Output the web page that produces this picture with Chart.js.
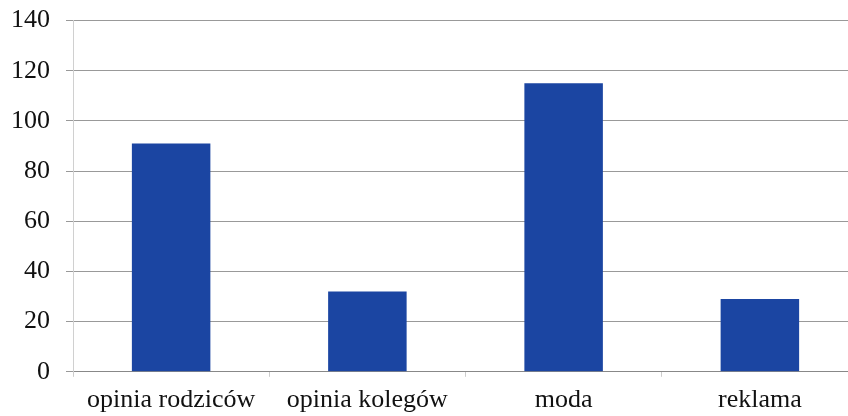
<!DOCTYPE html>
<html><head><meta charset="utf-8">
<script src="https://cdn.jsdelivr.net/npm/chart.js@4/dist/chart.umd.min.js"></script>
<style>html,body{margin:0;padding:0;overflow:hidden;background:#fff;width:848px;height:416px}#wrap{position:absolute;left:-13px;top:-11px;width:871px;height:442px}</style>
</head><body>
<div id="wrap"><canvas id="c"></canvas></div>
<script>
const categories = ['opinia rodziców', 'opinia kolegów', 'moda', 'reklama'];
const values = [91, 32, 115, 29];
const yTicks = [0, 20, 40, 60, 80, 100, 120, 140];
const FONT = '"Liberation Serif", "Times New Roman", serif';

new Chart(document.getElementById('c'), {
  type: 'bar',
  data: { labels: categories, datasets: [{ data: values, backgroundColor: '#1b45a2', borderWidth: 0, categoryPercentage: 1, barPercentage: 0.4 }] },
  options: {
    responsive: true, maintainAspectRatio: false, animation: false,
    devicePixelRatio: 1,
    layout: { padding: { top: 0, left: 8, right: 0, bottom: 7 } },
    plugins: { legend: { display: false }, tooltip: { enabled: false } },
    scales: {
      x: {
        grid: { display: true, drawOnChartArea: false, drawTicks: true, tickLength: 5, color: '#cccccc', offset: true },
        border: { display: true, color: '#888888' },
        ticks: { color: '#111', font: { family: FONT, size: 26 }, padding: 8 }
      },
      y: {
        min: 0, max: 140,
        afterBuildTicks: (s) => { s.ticks = yTicks.map(v => ({ value: v })); },
        grid: { color: '#999999', tickLength: 7, lineWidth: 1 },
        border: { display: true, color: '#d0d0d0' },
        ticks: { color: '#111', font: { family: FONT, size: 26 }, padding: 16 }
      }
    }
  }
});
</script>
</body></html>
